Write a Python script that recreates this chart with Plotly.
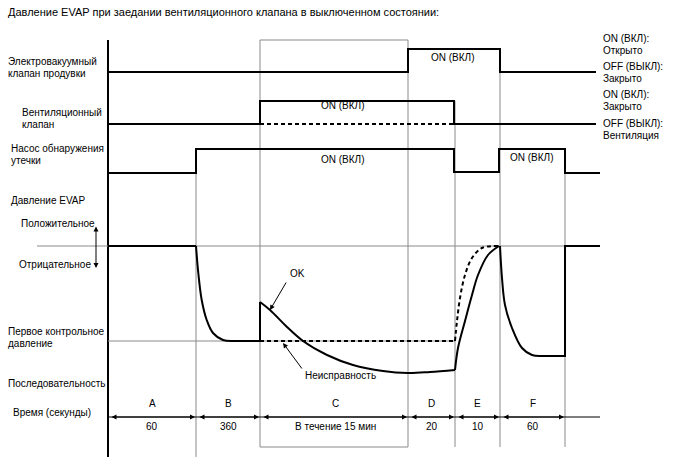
import plotly.graph_objects as go

# ---------------- data (diagram units: x = time position, y = signal level) -------------
phase_edges = [108, 196, 260, 408, 455, 500, 565]
phase_letters = ["A", "B", "C", "D", "E", "F"]
phase_times = ["60", "360", "В течение 15 мин", "20", "10", "60"]
axis_end = 600

# purge VSV
purge_x = [108, 408, 408, 500, 500, 596]
purge_y = [72, 72, 49, 49, 72, 72]
# vent valve (solid = commanded, dashed = stuck off)
vent_x = [108, 260, 260, 454, 454, 596]
vent_y = [124, 124, 101, 101, 124, 124]
vent_stuck_x = [260, 454]
vent_stuck_y = [124, 124]
# leak detection pump
pump_x = [108, 196, 196, 454, 454, 499, 499, 565, 565, 600]
pump_y = [173, 173, 149, 149, 172, 172, 149, 149, 173, 173]

# EVAP pressure
zero_level = 246
check_level = 341
evapA_x = [108, 196]
evapA_y = [246, 246]
evapB_x = [196, 198.3, 201.7, 206.7, 213, 223, 232]
evapB_y = [246, 273, 300, 320, 333, 340, 341]
evapB2_x = [232, 260, 260]
evapB2_y = [341, 341, 302]
ok_x = [260, 270, 287, 303, 327, 353, 383, 408, 430, 455]
ok_y = [302, 310, 327, 341, 355, 365, 371, 373, 372, 370]
e_ok_x = [455, 458, 465, 472, 478, 488, 499]
e_ok_y = [370, 348, 321, 295, 275, 255, 246]
malf_x = [260, 455]
malf_y = [341, 341]
e_malf_x = [455, 457, 460, 465, 472, 482, 499]
e_malf_y = [341, 321, 298, 275, 258, 248, 246]
f_x = [500, 502, 505, 512, 522, 532, 540]
f_y = [246, 278, 305, 328, 348, 355, 356]
f2_x = [540, 565, 565, 600]
f2_y = [356, 356, 246, 246]

FONT = "Liberation Sans, Arial, sans-serif"
GRAY = "#8a8a8a"
BLACK = "#000000"
FS = 10

fig = go.Figure()

def add_line(x, y, dash="solid", shape="linear", width=2):
    fig.add_trace(go.Scatter(x=x, y=y, mode="lines",
                             line=dict(color=BLACK, width=width, dash=dash, shape=shape, smoothing=1.0),
                             hoverinfo="skip", showlegend=False))

add_line(purge_x, purge_y)
add_line(vent_x, vent_y)
add_line(vent_stuck_x, vent_stuck_y, dash="4px,3px")
add_line(pump_x, pump_y)
add_line(evapA_x, evapA_y)
add_line(evapB_x, evapB_y, shape="spline")
add_line(evapB2_x, evapB2_y)
add_line(ok_x, ok_y, shape="spline")
add_line(e_ok_x, e_ok_y, shape="spline")
add_line(malf_x, malf_y, dash="4px,3px")
add_line(e_malf_x, e_malf_y, dash="4px,3px", shape="spline")
add_line(f_x, f_y, shape="spline")
add_line(f2_x, f2_y)

shapes = []
def vline(x, y0, y1, color=GRAY, width=1):
    shapes.append(dict(type="line", x0=x, x1=x, y0=y0, y1=y1, xref="x", yref="y",
                       line=dict(color=color, width=width), layer="below"))
def hline(y, x0, x1, color=GRAY, width=1):
    shapes.append(dict(type="line", x0=x0, x1=x1, y0=y, y1=y, xref="x", yref="y",
                       line=dict(color=color, width=width), layer="below"))

vline(phase_edges[0], 40, 457, color=BLACK, width=2)
vline(phase_edges[1], 149, 457)
shapes.append(dict(type="rect", x0=phase_edges[2], x1=phase_edges[3], y0=40, y1=447,
                   xref="x", yref="y", line=dict(color=GRAY, width=1), layer="below"))
vline(phase_edges[4], 101, 447)
vline(phase_edges[5], 49, 447)
vline(phase_edges[6], 149, 447)
hline(zero_level, 37, axis_end)
hline(check_level, 108, 455)
hline(417, 108, axis_end, color=BLACK, width=1)

annotations = []
def text(x, y, s, anchor="left", size=FS):
    annotations.append(dict(x=x, y=y, xref="x", yref="y", text=s, showarrow=False,
                            xanchor=anchor, yanchor="middle",
                            font=dict(family=FONT, size=size, color=BLACK)))

def arrow(x, y, ax, ay, side="end"):
    annotations.append(dict(x=x, y=y, ax=ax, ay=ay, xref="x", yref="y", axref="x", ayref="y",
                            text="", showarrow=True, arrowhead=2, arrowsize=1, arrowwidth=1,
                            arrowcolor=BLACK, arrowside=side, standoff=0, startstandoff=0))

text(6, 12, "Давление EVAP при заедании вентиляционного клапана в выключенном состоянии:", size=11)
text(6, 61, "Электровакуумный")
text(6, 73, "клапан продувки")
text(20, 112, "Вентиляционный")
text(20, 124, "клапан")
text(9, 148, "Насос обнаружения")
text(9, 160, "утечки")
text(9, 200, "Давление EVAP")
text(19, 223, "Положительное")
text(17, 264, "Отрицательное")
text(6, 331, "Первое контрольное")
text(6, 343, "давление")
text(6, 383, "Последовательность")
text(11, 412, "Время (секунды)")

rx = 601
text(rx, 38, "ON (ВКЛ):")
text(rx, 50, "Открыто")
text(rx, 66, "OFF (ВЫКЛ):")
text(rx, 78, "Закрыто")
text(rx, 94, "ON (ВКЛ):")
text(rx, 106, "Закрыто")
text(rx, 123, "OFF (ВЫКЛ):")
text(rx, 135, "Вентиляция")

text(453, 57, "ON (ВКЛ)", "center")
text(343, 105, "ON (ВКЛ)", "center")
text(343, 159, "ON (ВКЛ)", "center")
text(532, 157, "ON (ВКЛ)", "center")

text(288, 273, "OK")
arrow(270, 310, 287, 281)
text(303, 375, "Неисправность")
arrow(283, 343, 303, 370)

arrow(96, 268, 96, 225, side="end+start")

for i, (lab, tm) in enumerate(zip(phase_letters, phase_times)):
    a = phase_edges[i]
    b = phase_edges[i + 1]
    c = (a + b) / 2
    text(c + (1 if i == 2 else 0), 403, lab, "center")
    text(c + (1 if i == 2 else 0), 426, tm, "center")
    arrow(b - 1, 417, a + 2, 417, side="end+start")

fig.update_layout(
    width=688, height=463,
    margin=dict(l=0, r=0, t=0, b=0),
    paper_bgcolor="white", plot_bgcolor="white",
    xaxis=dict(range=[0, 688], visible=False, fixedrange=True),
    yaxis=dict(range=[463, 0], visible=False, fixedrange=True),
    shapes=shapes, annotations=annotations, showlegend=False,
)
fig.write_html("out.html", config={"displayModeBar": False},
               post_script="document.body.style.margin='0';document.body.style.overflow='hidden';")
